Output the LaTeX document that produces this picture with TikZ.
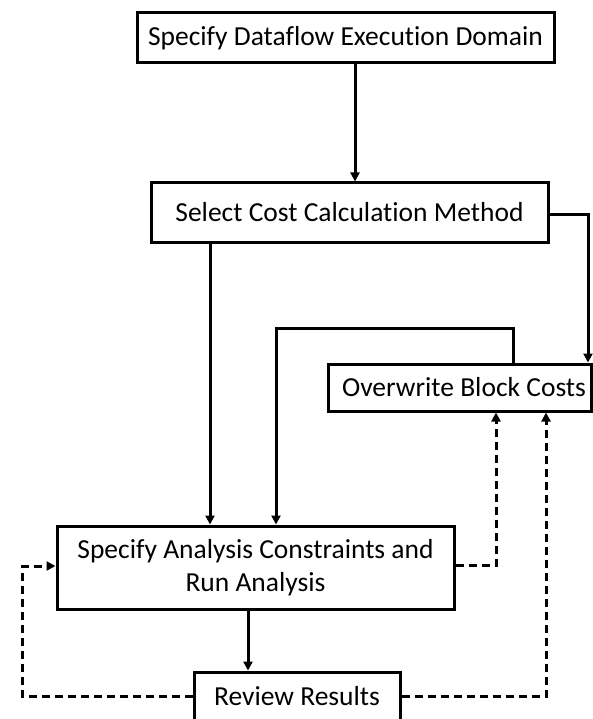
\documentclass[tikz,border=0pt]{standalone}
\usepackage{fontspec}
\setmainfont{Carlito}[Ligatures=NoCommon]
\usetikzlibrary{arrows.meta}
\begin{document}
\begin{tikzpicture}[x=1pt,y=-1pt,
  box/.style={draw=black,line width=3pt,rectangle,fill=white,inner sep=0pt,align=center,font=\fontsize{27.5}{33}\selectfont},
  conn/.style={line width=3pt,-{Triangle[length=9pt,width=9pt]}},
  dconn/.style={conn,dash pattern=on 8pt off 5pt}]
\useasboundingbox (0,0) rectangle (592,719);
\node[box,minimum width=417pt,minimum height=50pt] (b1) at (345.5,38) {Specify Dataflow Execution Domain};
\node[box,minimum width=397pt,minimum height=59pt] (b2) at (349.5,212.5) {Select Cost Calculation Method};
\node[box,minimum width=263pt,minimum height=47pt] (b3) at (460,387.5) {\hspace*{8pt}Overwrite Block Costs};
\node[box,minimum width=397pt,minimum height=83pt] (b4) at (255.5,567.5) {Specify Analysis Constraints and\\Run Analysis};
\node[box,minimum width=206pt,minimum height=48pt] (b5) at (297,696) {Review Results};
\coordinate (c1) at (588,215);
\coordinate (c2) at (513,328);
\coordinate (c3) at (276,328);
\coordinate (c4) at (496,565);
\coordinate (c5) at (546,696);
\coordinate (c6) at (22,696);
\coordinate (c7) at (22,566);
\draw[conn] (b1.south -| 355,0) -- (b2.north -| 355,0);
\draw[conn] (b2.east |- c1) -- (c1) -- (b3.north -| c1);
\draw[conn] (b2.south -| 210,0) -- (b4.north -| 210,0);
\draw[conn] (b3.north -| c2) -- (c2) -- (c3) -- (b4.north -| c3);
\draw[conn] (b4.south -| 248,0) -- (b5.north -| 248,0);
\draw[dconn] (b4.east |- c4) -- (c4) -- (b3.south -| c4);
\draw[dconn] (b5.east |- c5) -- (c5) -- (b3.south -| c5);
\draw[dconn] (b5.west |- c6) -- (c6) -- (c7) -- (b4.west |- c7);
\end{tikzpicture}
\end{document}
